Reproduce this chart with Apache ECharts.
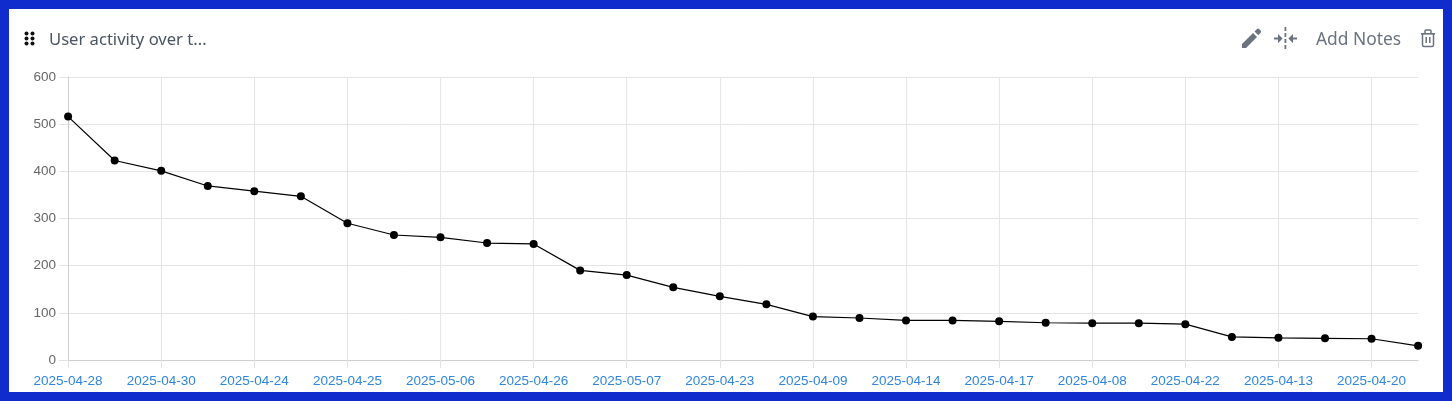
<!DOCTYPE html>
<html><head><meta charset="utf-8">
<style>
html,body{margin:0;padding:0;width:1452px;height:401px;overflow:hidden;background:#102ccd}
#card{position:absolute;left:9px;top:9px;width:1434px;height:383px;background:#fff}
#chart{position:absolute;left:0;top:0;width:1452px;height:401px}
#icons{position:absolute;left:0;top:0}
</style>
<script src="https://cdn.jsdelivr.net/npm/echarts@6/dist/echarts.min.js"></script>
</head><body>
<div id="card"></div><div id="chart"></div>
<svg id="icons" width="1452" height="401" fill="#6b7280">
  <path d="M1242 44 L1242 48 L1246 48 L1257 37 L1253 33 Z M1254.5 31.5 L1257 29 Q1258 28.2 1259 29 L1260.8 30.8 Q1261.5 31.8 1260.8 32.6 L1258.3 35.2 Z"/>
  <path d="M1284.5 27 h1.8 v4 h-1.8 Z M1284.5 33 h1.8 v4 h-1.8 Z M1284.5 39 h1.8 v4 h-1.8 Z M1284.5 45 h1.8 v4 h-1.8 Z M1274 37.6 h4 v-3.6 l4.6 4.6 l-4.6 4.6 v-3.6 h-4 Z M1297 37.6 h-4 v-3.6 l-4.6 4.6 l4.6 4.6 v-3.6 h4 Z"/>
  <path d="M1425 33 v-2 q0 -1 1 -1 h4 q1 0 1 1 v2 M1422.5 34 v11 q0 1.5 1.5 1.5 h8 q1.5 0 1.5 -1.5 v-11 M1426.2 37 v6 M1429.8 37 v6" fill="none" stroke="#6b7280" stroke-width="1.5"/>
  <rect x="1421" y="33" width="14" height="1.6"/>
</svg>
<script>
const categories = ['2025-04-28','','2025-04-30','','2025-04-24','','2025-04-25','','2025-05-06','','2025-04-26','','2025-05-07','','2025-04-23','','2025-04-09','','2025-04-14','','2025-04-17','','2025-04-08','','2025-04-22','','2025-04-13','','2025-04-20',''];
const users = [516,423,401,369,358,347,290,265,260,248,246,190,180,154,135,118,92,89,84,84,82,79,78,78,76,49,47,46,45,30];
const yMax = 600, yStep = 100;
const titleText = 'User activity over t...';
const notesText = 'Add Notes';

const chart = echarts.init(document.getElementById('chart'), null, {renderer:'canvas'});
const dots = [];
[33,38,43].forEach(y => [26,32].forEach(x => dots.push({type:'circle',shape:{cx:x+0.5,cy:y+0.5,r:2},style:{fill:'#111'}})));
chart.setOption({
  animation:false,
  grid:{left:68.1,right:33.9,top:77,height:283,containLabel:false},
  xAxis:{type:'category',data:categories,boundaryGap:false,
    axisLine:{lineStyle:{color:'#cfcfcf',width:1}},
    axisTick:{show:true,interval:1,length:8,lineStyle:{color:'#e3e3e3'}},
    axisLabel:{interval:1,color:'#2f86dc',fontSize:13.5,fontFamily:'"Liberation Sans",Arial,sans-serif',margin:14,hideOverlap:false},
    splitLine:{show:true,interval:1,lineStyle:{color:'#e5e5e5',width:1}}},
  yAxis:{type:'value',min:0,max:yMax,interval:yStep,
    axisLine:{show:true,lineStyle:{color:'#cfcfcf',width:1}},
    axisTick:{show:true,length:9,lineStyle:{color:'#e3e3e3'}},
    axisLabel:{color:'#666',fontSize:13.5,fontFamily:'"Liberation Sans",Arial,sans-serif',margin:12},
    splitLine:{show:true,lineStyle:{color:'#e5e5e5',width:1}}},
  series:[{type:'line',data:users,symbol:'circle',symbolSize:8,showAllSymbols:true,showSymbol:true,
    itemStyle:{color:'#000'},lineStyle:{color:'#000',width:1.2}}],
  graphic:[
    ...dots,
    {type:'text',x:49,y:40,style:{text:titleText,fill:'#4b5563',font:'16.6px "Noto Sans","Open Sans",sans-serif',textVerticalAlign:'middle'}},
    {type:'text',x:1316,y:40,style:{text:notesText,fill:'#6b7280',font:'17.4px "Noto Sans","Open Sans",sans-serif',textVerticalAlign:'middle'}}
  ]
});
</script>
</body></html>
